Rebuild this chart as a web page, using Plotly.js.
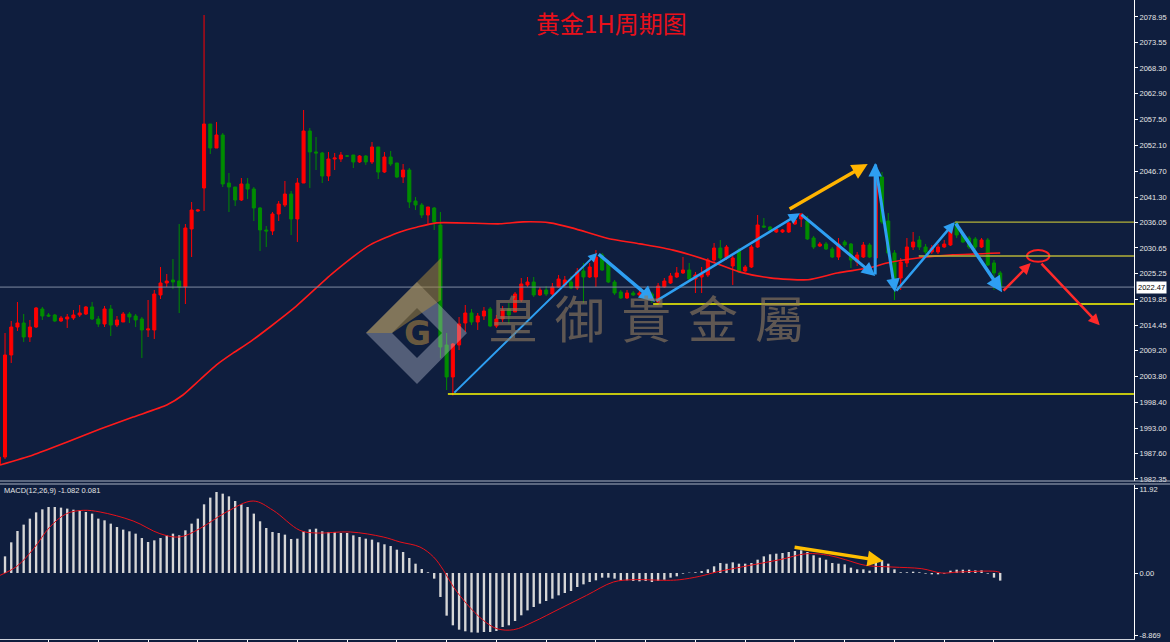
<!DOCTYPE html>
<html><head><meta charset="utf-8">
<script src="https://cdn.plot.ly/plotly-3.0.1.min.js"></script>
<style>html,body{margin:0;padding:0;background:#0f1e3e;}#chart{width:1170px;height:642px;}</style>
</head><body><div id="chart"></div>
<script>
// ---- data (bar index, prices) ----
const openPrices = [1985.27,1986.94,2008.27,2014.12,2014.96,2012.03,2014.12,2017.89,2016.63,2016.63,
2015.38,2015.8,2016.01,2016.63,2016.84,2018.31,2015.8,2014.75,2017.89,2014.54,
2015.17,2016.84,2016.42,2015.8,2013.5,2013.5,2020.82,2023.32,2023.95,2023.74,
2022.49,2034.62,2038.38,2043.19,2056.57,2051.55,2054.27,2044.23,2043.4,2040.68,
2044.03,2042.98,2039.01,2034.41,2034.2,2037.75,2039.63,2041.93,2036.71,2044.23,
2055.11,2050.72,2050.51,2045.7,2049.25,2049.25,2049.88,2050.09,2048.63,2049.88,
2048.63,2051.76,2046.53,2049.67,2048.42,2045.49,2046.95,2040.47,2039.63,2037.54,
2039.01,2035.45,2010.36,2003.67,2010.36,2014.96,2017.05,2015.17,2016.42,2017.89,
2014.33,2015.8,2017.89,2017.26,2019.77,2022.91,2023.53,2020.82,2021.86,2021.02,
2022.49,2022.91,2023.53,2022.28,2025.83,2024.58,2024.58,2029.18,2027.51,2023.53,
2021.44,2020.19,2021.23,2020.82,2021.23,2021.02,2019.35,2022.49,2023.32,2024.58,
2025.42,2026.04,2024.16,2024.58,2025.0,2028.13,2030.64,2028.55,2026.88,2030.22,
2025.83,2026.67,2030.85,2035.24,2035.03,2033.99,2033.99,2033.99,2035.66,2036.71,
2036.29,2032.73,2031.06,2031.48,2030.43,2028.76,2031.9,2031.48,2027.72,2028.76,
2031.27,2028.55,2045.49,2036.29,2029.6,2024.37,2027.51,2030.85,2032.32,2030.85,
2029.81,2029.81,2030.85,2031.27,2035.87,2033.36,2032.73,2032.53,2030.85,2032.32,
2027.51,2025.42];
const highPrices = [1987.36,2012.87,2015.38,2019.35,2016.84,2015.59,2018.31,2018.31,2017.05,2016.84,
2016.42,2016.84,2017.68,2018.72,2018.52,2019.35,2016.42,2018.52,2018.72,2016.42,
2017.26,2017.26,2016.84,2016.22,2019.77,2021.86,2026.67,2025.21,2028.34,2035.66,
2035.66,2040.26,2038.8,2079.36,2056.57,2056.99,2054.69,2046.33,2043.4,2045.28,
2045.28,2043.4,2039.22,2035.24,2038.17,2040.47,2044.65,2042.56,2045.28,2059.5,
2055.74,2053.85,2050.72,2050.72,2050.51,2050.72,2050.09,2050.09,2050.09,2050.09,
2052.81,2051.76,2050.72,2050.93,2048.42,2048.21,2047.37,2041.31,2040.05,2039.22,
2039.22,2038.17,2012.87,2010.78,2016.22,2018.72,2017.89,2017.05,2018.31,2018.31,
2016.63,2018.52,2019.14,2021.44,2024.37,2024.58,2024.58,2022.49,2022.7,2023.32,
2025.0,2024.79,2024.79,2026.46,2027.51,2027.51,2030.22,2029.6,2028.13,2023.95,
2021.86,2021.86,2021.65,2021.86,2021.65,2021.44,2023.32,2024.37,2025.42,2026.67,
2028.76,2027.51,2025.62,2026.67,2028.55,2031.69,2032.32,2031.27,2028.97,2030.64,
2027.09,2031.27,2037.54,2036.92,2035.24,2034.83,2034.62,2036.08,2036.92,2037.96,
2037.33,2033.15,2031.9,2031.9,2030.85,2032.73,2032.32,2031.69,2029.81,2031.9,
2031.69,2047.79,2046.53,2037.96,2030.22,2028.55,2032.73,2033.99,2033.15,2031.48,
2031.27,2031.48,2032.32,2035.45,2036.29,2033.78,2033.15,2032.94,2032.73,2032.73,
2028.13,2025.83];
const lowPrices = [1985.06,1986.52,2006.6,2013.29,2010.99,2010.99,2013.92,2015.59,2016.22,2015.17,
2015.17,2013.92,2015.59,2016.22,2016.63,2015.59,2014.12,2014.12,2012.24,2014.12,
2015.17,2014.96,2014.12,2007.64,2012.03,2011.62,2019.98,2022.49,2022.07,2017.05,
2018.93,2028.76,2038.2,2038.38,2050.3,2051.55,2043.4,2038.17,2039.43,2040.47,
2040.89,2036.29,2030.02,2030.85,2033.36,2036.29,2039.22,2033.36,2031.9,2044.23,
2043.19,2046.95,2044.23,2044.65,2046.95,2048.63,2049.67,2047.37,2048.42,2048.0,
2048.21,2045.07,2046.33,2047.79,2045.28,2044.23,2039.01,2038.59,2036.92,2035.66,
2034.41,2007.64,2000.95,1999.8,2009.31,2013.08,2014.54,2013.5,2015.59,2014.12,
2013.92,2015.17,2014.75,2017.26,2019.35,2022.49,2020.4,2020.61,2020.61,2020.4,
2022.28,2022.49,2022.07,2021.86,2019.14,2024.37,2022.49,2025.83,2023.32,2020.82,
2019.98,2019.98,2020.61,2020.4,2019.98,2019.14,2019.14,2022.28,2023.12,2024.37,
2025.21,2023.95,2021.23,2021.23,2024.58,2027.51,2028.13,2028.13,2022.91,2025.42,
2025.62,2026.46,2030.64,2034.83,2034.2,2033.78,2033.78,2033.78,2035.45,2035.03,
2032.32,2030.43,2030.85,2030.22,2028.55,2028.13,2030.85,2026.46,2026.88,2028.55,
2028.55,2028.13,2035.66,2028.97,2019.77,2021.86,2026.67,2030.22,2030.22,2029.39,
2029.39,2029.39,2030.64,2031.06,2032.73,2031.69,2030.43,2030.43,2030.64,2026.88,
2021.86,2021.86];
const closePrices = [1986.94,2008.27,2014.12,2014.96,2012.03,2014.12,2018.1,2016.42,2016.42,2015.38,
2016.01,2016.22,2016.63,2017.05,2018.31,2015.8,2014.75,2017.89,2014.54,2015.59,
2016.84,2016.22,2015.59,2013.5,2013.71,2021.02,2023.32,2023.74,2023.53,2022.49,
2034.83,2038.59,2038.59,2056.57,2051.55,2054.27,2044.03,2043.4,2040.68,2044.03,
2042.98,2039.01,2034.41,2034.2,2037.75,2039.84,2041.93,2036.71,2044.23,2055.11,
2050.72,2050.51,2045.7,2049.25,2049.46,2050.09,2049.88,2048.63,2049.88,2048.63,
2051.76,2046.53,2049.67,2048.21,2045.49,2046.95,2040.26,2039.63,2037.54,2039.22,
2036.08,2009.94,2003.67,2010.57,2014.75,2017.05,2015.17,2016.42,2017.47,2014.33,
2015.8,2017.68,2016.63,2021.02,2023.12,2023.53,2020.82,2021.86,2021.02,2022.49,
2024.16,2023.95,2022.28,2025.62,2024.58,2026.67,2028.76,2026.04,2023.53,2021.23,
2020.19,2021.23,2020.82,2021.23,2020.19,2019.77,2022.7,2023.74,2024.79,2025.42,
2026.04,2024.16,2025.0,2025.21,2028.13,2030.64,2028.55,2030.85,2028.55,2025.62,
2026.67,2030.85,2035.45,2035.03,2034.41,2034.62,2034.41,2035.87,2036.5,2037.75,
2032.53,2030.85,2031.48,2030.43,2028.76,2031.48,2031.27,2028.13,2029.18,2031.27,
2028.76,2045.49,2036.08,2029.6,2022.91,2027.72,2030.85,2031.9,2030.85,2029.81,
2030.64,2030.85,2031.48,2034.83,2033.36,2031.9,2030.85,2030.85,2032.32,2027.09,
2025.42,2022.47];
const barIndex = openPrices.map((_, i) => i);

// moving average (read at sample bars)
const maBars = [0.2,5.5,11,16.3,21.6,27,29.6,32.3,35,37.7,40.4,47.3,53.7,59.7,64.5,67.2,70.4,80.6,84.3,88.6,92.3,97.8,103.1,108.4,113.9,119.2,124,130.1,134.8,140,142.8,148.1,153.4,161];
const maValues = [1985.27,1987.36,1990.08,1992.8,1995.3,1997.8,1999.9,2003.04,2006.2,2008.7,2011.0,2017.9,2025.4,2031.3,2034.0,2035.0,2035.9,2035.7,2036.1,2035.9,2034.8,2032.7,2031.5,2030.2,2028.1,2025.6,2024.4,2024.0,2025.4,2026.5,2027.5,2028.6,2029.2,2029.6];

// MACD histogram, bars 1..161
const macdHist = [2.36,4.35,5.96,6.86,7.71,8.6,9.03,9.36,9.36,9.27,
9.13,8.98,8.89,8.65,8.42,7.71,7.47,7.0,6.52,6.15,
5.91,5.58,4.96,4.4,4.63,4.96,5.34,5.58,5.34,6.05,
7.0,7.71,9.74,10.69,11.49,11.25,10.87,10.21,9.74,9.36,
8.42,7.33,6.38,5.82,5.67,5.44,4.82,4.87,5.91,6.19,
6.29,5.91,5.82,5.82,5.67,5.67,5.34,5.11,4.87,4.73,
4.35,4.07,3.83,3.31,2.98,2.13,1.32,0.57,0.1,-0.8,
-3.4,-6.05,-7.42,-8.04,-8.27,-8.42,-8.46,-8.37,-8.37,-8.23,
-7.66,-7.42,-6.81,-6.0,-5.3,-4.82,-4.35,-3.97,-3.64,-3.17,
-2.84,-2.55,-1.99,-1.61,-1.28,-1.04,-0.66,-0.66,-0.8,-1.13,
-1.04,-1.13,-1.18,-1.13,-1.28,-1.13,-0.95,-0.66,-0.47,-0.09,
0.05,0.1,0.28,0.52,0.95,1.42,1.32,1.51,1.32,1.32,
1.42,1.89,2.36,2.65,2.74,2.84,2.98,3.12,3.22,2.98,
2.51,2.17,1.89,1.42,1.32,1.23,0.76,0.52,0.52,0.33,
1.56,1.8,1.32,0.52,0.1,0.1,0.19,0.1,-0.09,-0.19,
-0.19,-0.09,0.33,0.47,0.47,0.47,0.38,0.38,-0.09,-0.66,-1.08];
const macdBars = macdHist.map((_, i) => i + 1);
const signalBars = [0.2,2.9,5.6,8.2,10.9,13.6,16.3,21.6,25.9,29.1,32.3,36.6,40.9,44.1,48.4,51.1,56.5,61.8,64.5,67.7,69.9,71.5,73.1,75.2,77.9,80.1,82.8,85.9,90.2,94.5,98.8,102,107.4,109.5,112.7,115.4,120.8,125.6,129.9,133.4,136.1,139.3,143.6,148.4,151.6,154.3,160.2,161];
const signalValues = [-0.33,0.95,3.45,6.52,8.42,8.89,8.65,7.38,5.58,5.11,6.29,8.65,10.21,8.89,6.05,5.67,5.82,5.11,4.4,3.69,2.27,0.38,-1.99,-4.35,-6.71,-7.9,-8.04,-6.95,-5.06,-3.17,-1.28,-0.95,-1.04,-0.95,-0.47,0.14,1.09,1.89,2.74,2.51,1.89,1.09,0.85,0.61,0.0,0.14,0.24,0.08];

// axis ticks
const priceTicks = [2078.95,2073.55,2068.30,2062.90,2057.50,2052.10,2046.70,2041.30,2036.05,2030.65,2025.25,2019.85,2014.45,2009.20,2003.80,1998.40,1993.00,1987.60,1982.35];
const priceTickText = priceTicks.map(v => v.toFixed(2));
const macdTicks = [11.92, 0, -8.869];
const macdTickText = ['11.92', '0.00', '-8.869'];
const timeTicks = [8,16,24,32,40,48,56,64,72,80,88,96,104,112,120,128,136,144,152,160];

// drawn analysis objects (bar index, price)
const lastPrice = 2022.47;
const levelPrices = [2000.1, 2018.93, 2036.05, 2028.97];
const levelStarts = [72.2, 105.2, 153.7, 147.9];
const levelColors = ['#ffff00', '#ffff00', '#b4b238', '#b4b238'];
const zigzagBars = [73.0, 96.2, 105.5, 128.8, 140.9, 140.9, 144.1, 153.7, 161.3];
const zigzagPrices = [2000.1, 2029.6, 2019.4, 2037.9, 2024.8, 2048.4, 2021.4, 2036.1, 2021.4];
const zigzagWidths = [2, 3.5, 2.5, 3, 3, 3, 2.5, 3.5];
const redPathBars = [161.3, 165.9, 167.4, 177.0];
const redPathPrices = [2021.4, 2027.5, 2027.7, 2014.5];

// ---- build chart ----
const W = 1134, H = 642;
const px = x => x / W, py = y => 1 - y / H;

const traces = [
  {type:'candlestick', x:barIndex, open:openPrices, high:highPrices, low:lowPrices, close:closePrices,
   increasing:{line:{color:'#ff0000', width:1}, fillcolor:'#ff0000'},
   decreasing:{line:{color:'#008c00', width:1}, fillcolor:'#008c00'},
   whiskerwidth:0, hoverinfo:'none', xaxis:'x', yaxis:'y'},
  {type:'scatter', mode:'lines', x:maBars, y:maValues, line:{color:'#ff1a1a', width:1.6, shape:'spline', smoothing:0.6}, hoverinfo:'none', xaxis:'x', yaxis:'y'},
  {type:'bar', x:macdBars, y:macdHist, width:0.38, marker:{color:'#d6d6d6', line:{width:0}}, hoverinfo:'none', xaxis:'x', yaxis:'y2'},
  {type:'scatter', mode:'lines', x:signalBars, y:signalValues, line:{color:'#e8101a', width:1, shape:'spline'}, hoverinfo:'none', xaxis:'x', yaxis:'y2'}
];

const shapes = [
  {type:'line', xref:'paper', yref:'y', x0:0, x1:1, y0:lastPrice, y1:lastPrice, line:{color:'#7f8aa0', width:1}},
  {type:'line', xref:'paper', yref:'paper', x0:0, x1:1170/W, y0:py(481), y1:py(481), line:{color:'#aab2c2', width:1}},
  {type:'line', xref:'paper', yref:'paper', x0:0, x1:1170/W, y0:py(484), y1:py(484), line:{color:'#aab2c2', width:1}},
  {type:'circle', xref:'x', yref:'y', x0:165.3, x1:168.9, y0:2027.75, y1:2030.2, line:{color:'#ff2020', width:2}},
  // watermark logo
  {type:'path', xref:'paper', yref:'paper', layer:'above', line:{width:0}, fillcolor:'rgba(195,200,215,0.38)',
   path:`M${px(366)},${py(333)} L${px(417)},${py(282)} L${px(467)},${py(333)} L${px(417)},${py(384)} Z M${px(392)},${py(333)} L${px(417)},${py(358)} L${px(442)},${py(333)} L${px(417)},${py(308)} Z`},
  {type:'path', xref:'paper', yref:'paper', layer:'above', line:{width:0}, fillcolor:'rgba(175,140,60,0.5)',
   path:`M${px(366)},${py(333)} L${px(441)},${py(258)} L${px(441)},${py(300)} L${px(392)},${py(333)} Z`}
];
levelPrices.forEach((p, i) => shapes.push({type:'line', xref:'x', yref:'y', x0:levelStarts[i], x1:182.5, y0:p, y1:p, line:{color:levelColors[i], width:1.4}}));

const arrow = (x0, y0, x1, y1, color, width, yref) => ({
  x:x1, y:y1, ax:x0, ay:y0, xref:'x', yref:yref, axref:'x', ayref:yref,
  showarrow:true, text:'', arrowhead:2, arrowsize:0.9, arrowwidth:width, arrowcolor:color, standoff:0
});

const annotations = [];
for (let i = 0; i < zigzagBars.length - 1; i++) {
  annotations.push(arrow(zigzagBars[i], zigzagPrices[i], zigzagBars[i+1], zigzagPrices[i+1], '#2e9ff2', zigzagWidths[i], 'y'));
}
annotations.push(arrow(redPathBars[0], redPathPrices[0], redPathBars[1], redPathPrices[1], '#ff2a2a', 2.5, 'y'));
annotations.push(arrow(redPathBars[2], redPathPrices[2], redPathBars[3], redPathPrices[3], '#ff2a2a', 2.5, 'y'));
annotations.push(arrow(126.9, 2038.6, 139.7, 2048.2, '#ffb400', 3.5, 'y'));
annotations.push(arrow(127.7, 3.69, 142.2, 1.70, '#ffbf00', 3.5, 'y2'));

// watermark text (one string, spaced characters)
annotations.push({xref:'paper', yref:'paper', x:px(646), y:py(316), yanchor:'middle', text:'皇\u2004御\u2004貴\u2004金\u2004屬', showarrow:false,
  font:{family:'Noto Sans CJK TC', size:50, color:'rgba(145,122,95,0.62)'}});
annotations.push({xref:'paper', yref:'paper', x:px(417), y:py(334), text:'<b>G</b>', showarrow:false,
  font:{family:'DejaVu Sans', size:33, color:'rgba(110,92,64,0.95)'}});

annotations.push({xref:'paper', yref:'paper', x:px(611), y:py(3), yanchor:'top', text:'黄金1H周期图', showarrow:false,
  font:{family:'Noto Sans CJK SC', size:24, color:'#e8101a'}});
annotations.push({xref:'paper', yref:'paper', x:px(2), y:py(490), xanchor:'left', yanchor:'middle', text:'MACD(12,26,9) -1.082 0.081', showarrow:false,
  font:{family:'Liberation Sans', size:7.5, color:'#e4e4e4'}});
annotations.push({xref:'paper', yref:'y', x:px(1136), y:lastPrice, xanchor:'left', yanchor:'middle', text:'2022.47', showarrow:false,
  bgcolor:'#ffffff', borderpad:1, font:{family:'Liberation Sans', size:7.5, color:'#000000'}});

const tickFont = {family:'Liberation Sans', size:7.5, color:'#e6e6e6'};
const layout = {
  width:1170, height:642,
  paper_bgcolor:'#0f1e3e', plot_bgcolor:'#0f1e3e',
  margin:{l:0, r:36, t:0, b:0},
  showlegend:false, dragmode:false, hovermode:false,
  xaxis:{range:[0.193, 182.51], anchor:'y2', showgrid:false, zeroline:false,
         showline:true, linecolor:'#cfd3dc', linewidth:1,
         ticks:'outside', tickvals:timeTicks, ticklen:3, tickcolor:'#ffffff', showticklabels:false,
         rangeslider:{visible:false}, fixedrange:true},
  yaxis:{domain:[py(481), 1], range:[1981.92, 2082.5], side:'right', tickvals:priceTicks, ticktext:priceTickText,
         ticks:'outside', ticklen:3, tickcolor:'#ffffff', showline:true, linecolor:'#ffffff', linewidth:1,
         showgrid:false, zeroline:false, tickfont:tickFont, fixedrange:true},
  yaxis2:{domain:[py(639), py(485)], range:[-9.36, 12.48], side:'right', tickvals:macdTicks, ticktext:macdTickText,
         ticks:'outside', ticklen:3, tickcolor:'#ffffff', showline:true, linecolor:'#ffffff', linewidth:1,
         showgrid:false, zeroline:false, tickfont:tickFont, fixedrange:true},
  shapes:shapes, annotations:annotations
};

Plotly.newPlot('chart', traces, layout, {displayModeBar:false, staticPlot:true});
</script>
</body></html>
